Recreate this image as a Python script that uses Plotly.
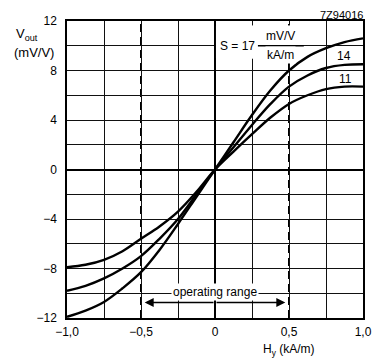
import plotly.graph_objects as go

# field H_y (kA/m)
h_field = [-1.0, -0.875, -0.75, -0.625, -0.5, -0.375, -0.25, -0.125, 0.0,
           0.125, 0.25, 0.375, 0.5, 0.625, 0.75, 0.875, 1.0]

# output voltage (mV/V) for three sensitivities
v_s17 = [-11.9, -11.4, -10.7, -9.6, -8.3, -6.5, -4.4, -2.2, 0.0,
         2.2, 4.4, 6.4, 8.0, 9.1, 9.8, 10.3, 10.6]
v_s14 = [-9.8, -9.4, -8.8, -8.0, -7.0, -5.6, -4.0, -2.0, 0.0,
         1.8, 3.6, 5.3, 6.7, 7.6, 8.2, 8.45, 8.5]
v_s11 = [-7.9, -7.7, -7.3, -6.6, -5.6, -4.6, -3.4, -1.8, 0.0,
         1.45, 2.85, 4.2, 5.3, 6.0, 6.5, 6.7, 6.7]

series = [("17", v_s17), ("14", v_s14), ("11", v_s11)]

x_grid = [-1.0, -0.75, -0.5, -0.25, 0.0, 0.25, 0.5, 0.75, 1.0]
x_labels = ["\u22121,0", "", "\u22120,5", "", "0", "", "0,5", "", "1,0"]
y_grid = [-12, -10, -8, -6, -4, -2, 0, 2, 4, 6, 8, 10, 12]
y_labels = ["\u221212", "", "\u22128", "", "\u22124", "", "0", "", "4", "", "8", "", "12"]

op_range = [-0.5, 0.5]

FONT = "Liberation Sans, Arial, sans-serif"

fig = go.Figure()
for name, vals in series:
    fig.add_trace(go.Scatter(x=h_field, y=vals, mode="lines", name=name,
                             line=dict(color="black", width=2.4, shape="spline"),
                             showlegend=False, hoverinfo="skip"))

shapes = []
# dashed operating range boundaries
for xv in op_range:
    shapes.append(dict(type="line", xref="x", yref="y", x0=xv, x1=xv, y0=-12, y1=12,
                       line=dict(color="black", width=2, dash="8px,5px"), layer="below"))
# white box behind sensitivity label
shapes.append(dict(type="rect", xref="x", yref="y", x0=0.01, x1=0.58, y0=9.0, y1=11.6,
                   fillcolor="white", line=dict(color="white", width=1), layer="above"))
shapes.append(dict(type="line", xref="x", yref="y", x0=0.29, x1=0.6, y0=10, y1=10,
                   line=dict(color="black", width=1.3), layer="above"))

def txt(x, y, text, size=12, ref="x", **kw):
    d = dict(x=x, y=y, xref="x" if ref == "x" else "paper",
             yref="y" if ref == "x" else "paper", text=text, showarrow=False,
             xanchor="center", yanchor="middle",
             font=dict(size=size, color="black", family=FONT))
    d.update(kw)
    return d

ann = []
ann.append(txt(0.155, 10, "S = 17", bgcolor="white"))
ann.append(txt(0.44, 10.8, "mV/V", bgcolor="white"))
ann.append(txt(0.44, 9.25, "kA/m", bgcolor="white"))
ann.append(txt(0.87, 9.2, "14"))
ann.append(txt(0.88, 7.3, "11"))
# operating range
ann.append(txt(0, -9.9, "operating range", bgcolor="white"))
for xe in [-0.475, 0.475]:
    ann.append(dict(x=xe, y=-10.75, ax=0, ay=-10.75, xref="x", yref="y",
                    axref="x", ayref="y", text="", showarrow=True,
                    arrowhead=2, arrowsize=1.2, arrowwidth=1.5, arrowcolor="black"))
# axis titles and id
ann.append(txt(-0.135, 0.953, "V<sub>out</sub>", size=13, ref="paper"))
ann.append(txt(-0.11, 0.893, "(mV/V)", size=13, ref="paper"))
ann.append(txt(0.75, -0.108, "H<sub>y</sub> (kA/m)", size=12, ref="paper"))
ann.append(txt(1.008, 1.02, "7Z94016", size=11, ref="paper", xanchor="right"))

fig.update_layout(
    width=373, height=358,
    margin=dict(l=67, r=10, t=21, b=40, autoexpand=False),
    paper_bgcolor="white", plot_bgcolor="white",
    annotations=ann, shapes=shapes,
    font=dict(family=FONT, size=12, color="black"),
)
fig.update_xaxes(range=[-1, 1], tickvals=x_grid, ticktext=x_labels, automargin=False,
                 showgrid=True, gridcolor="#111", gridwidth=1,
                 zeroline=True, zerolinecolor="black", zerolinewidth=2,
                 showline=True, linecolor="black", linewidth=1.5, mirror=True,
                 ticks="", ticklabelstandoff=2, tickfont=dict(size=12))
fig.update_yaxes(range=[-12, 12], tickvals=y_grid, ticktext=y_labels, automargin=False,
                 showgrid=True, gridcolor="#111", gridwidth=1,
                 zeroline=True, zerolinecolor="black", zerolinewidth=2,
                 showline=True, linecolor="black", linewidth=1.5, mirror=True,
                 ticks="", ticklabelstandoff=6, tickfont=dict(size=12))

fig.write_html("out.html", config={"displayModeBar": False},
               post_script="document.body.style.margin='0';document.body.style.overflow='hidden';")
